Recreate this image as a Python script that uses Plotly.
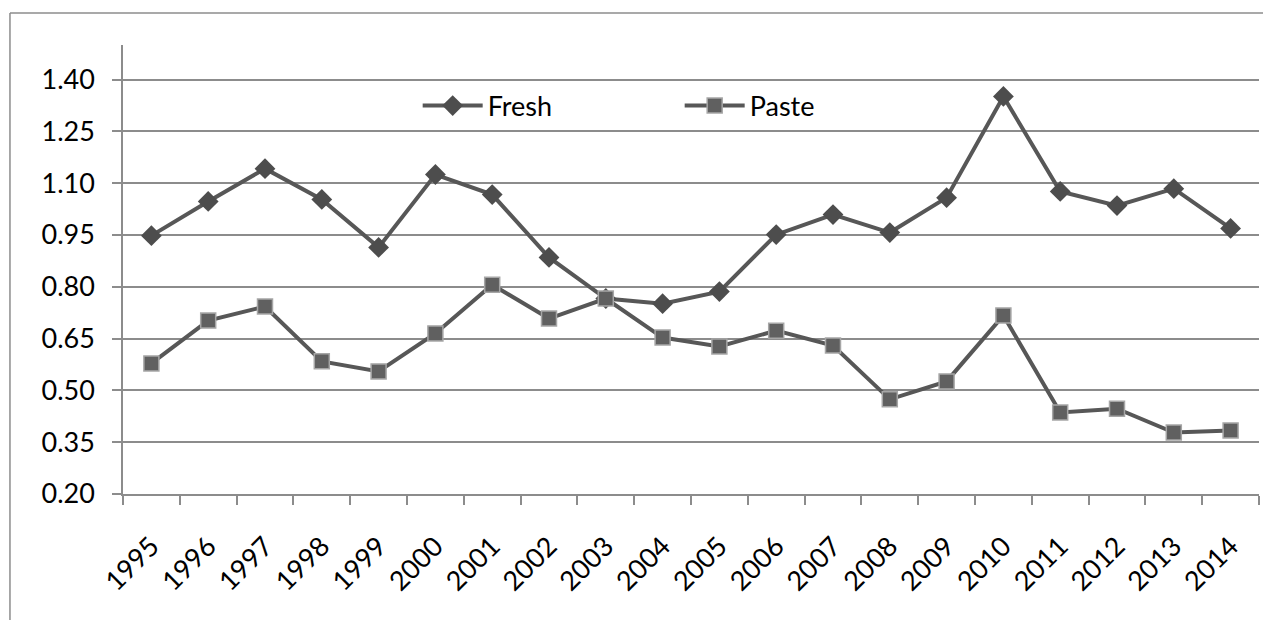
import plotly.graph_objects as go

# Yearly values for the two series
years = ["1995", "1996", "1997", "1998", "1999", "2000", "2001", "2002", "2003", "2004",
         "2005", "2006", "2007", "2008", "2009", "2010", "2011", "2012", "2013", "2014"]
fresh = [0.948, 1.047, 1.142, 1.053, 0.914, 1.125, 1.067, 0.885, 0.766, 0.751,
         0.786, 0.951, 1.009, 0.957, 1.058, 1.351, 1.076, 1.035, 1.084, 0.969]
paste = [0.578, 0.702, 0.743, 0.584, 0.555, 0.665, 0.806, 0.708, 0.766, 0.653,
         0.627, 0.673, 0.630, 0.474, 0.526, 0.717, 0.436, 0.447, 0.378, 0.384]
y_ticks = [0.20, 0.35, 0.50, 0.65, 0.80, 0.95, 1.10, 1.25, 1.40]

FONT = "Lato"
FS = 27
LINE = "#575757"
GRID = "#8c8c8c"

fig = go.Figure()
fig.add_trace(go.Scatter(
    x=years, y=fresh, name="Fresh", mode="lines+markers",
    line=dict(color=LINE, width=4),
    marker=dict(symbol="diamond", size=16, color="#4d4d4d",
                line=dict(color="#4d4d4d", width=0)),
))
fig.add_trace(go.Scatter(
    x=years, y=paste, name="Paste", mode="lines+markers",
    line=dict(color=LINE, width=4),
    marker=dict(symbol="square", size=15, color="#606060",
                line=dict(color="#a6a6a6", width=1.5)),
))

# Outer chart frame (top and left edges)
frame = dict(color="#8c8c8c", width=1.5)
fig.add_shape(type="line", xref="paper", yref="paper",
              x0=-0.0995, x1=1.01, y0=1.0713, y1=1.0713, line=frame)
fig.add_shape(type="line", xref="paper", yref="paper",
              x0=-0.0995, x1=-0.0995, y0=1.0713, y1=-0.30, line=frame)

fig.update_layout(
    width=1263, height=620,
    margin=dict(l=123, r=4, t=45, b=126),
    paper_bgcolor="white", plot_bgcolor="white",
    font=dict(family=FONT, size=FS, color="black"),
    showlegend=True,
    legend=dict(
        orientation="h", x=0.2594, y=0.864, xanchor="left", yanchor="middle",
        bgcolor="rgba(0,0,0,0)", font=dict(family=FONT, size=FS, color="black"),
        entrywidth=187, entrywidthmode="pixels", itemwidth=60,
    ),
    xaxis=dict(
        type="category", range=[-0.5, 19.5],
        showline=True, linecolor=GRID, linewidth=1.5,
        ticks="outside", ticklen=9, tickcolor=GRID, tickwidth=1.5,
        tickson="boundaries", tickangle=-45,
        showgrid=False, ticklabelstandoff=24,
        tickfont=dict(family=FONT, size=FS, color="black"),
    ),
    yaxis=dict(
        range=[0.2, 1.5], tickvals=y_ticks, tickformat=".2f",
        showline=True, linecolor=GRID, linewidth=1.5,
        ticks="outside", ticklen=9, tickcolor=GRID, tickwidth=1.5,
        showgrid=True, gridcolor=GRID, gridwidth=1.5,
        zeroline=False, ticklabelstandoff=12,
        tickfont=dict(family=FONT, size=FS, color="black"),
    ),
)

fig.write_html("out.html")
